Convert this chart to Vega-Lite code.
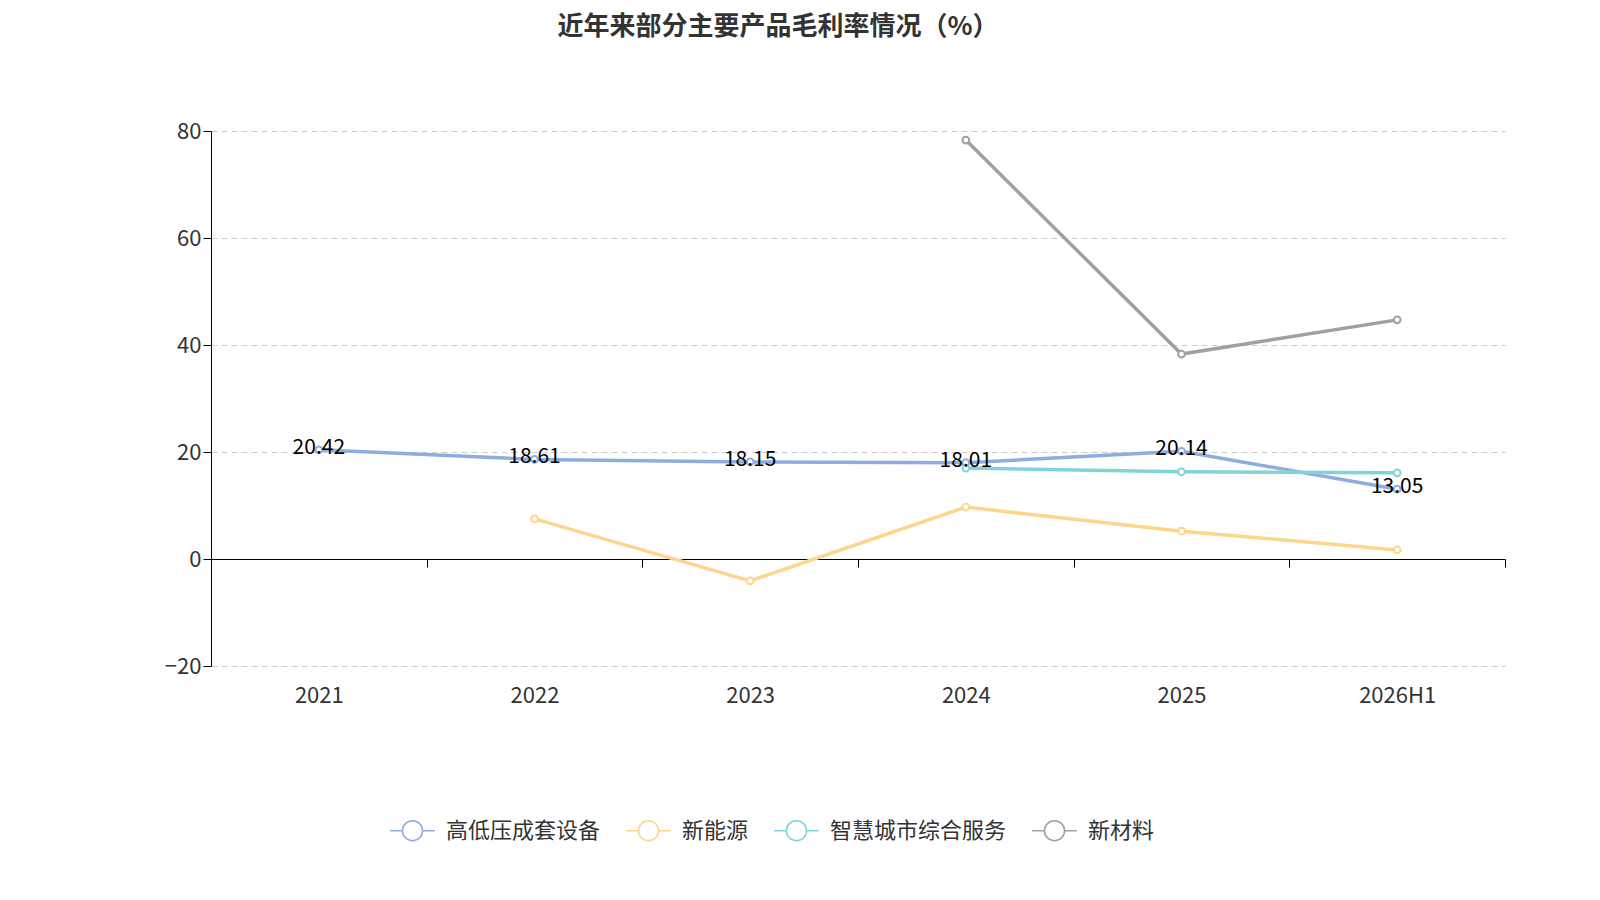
{
  "$schema": "https://vega.github.io/schema/vega-lite/v6.json",
  "autosize": {"type": "none"},
  "width": 1294,
  "height": 535,
  "padding": {"left": 211, "top": 131, "right": 95, "bottom": 234},
  "config": {"font": "Noto Sans CJK SC", "view": {"stroke": null}},
  "title": {"text": "近年来部分主要产品毛利率情况（%）", "fontSize": 26, "fontWeight": "bold", "color": "#333333", "anchor": "middle", "dx": -80, "offset": 80},
  "data": {"values": [
    {"year": "2021", "series": "高低压成套设备", "value": 20.42},
    {"year": "2022", "series": "高低压成套设备", "value": 18.61},
    {"year": "2023", "series": "高低压成套设备", "value": 18.15},
    {"year": "2024", "series": "高低压成套设备", "value": 18.01},
    {"year": "2025", "series": "高低压成套设备", "value": 20.14},
    {"year": "2026H1", "series": "高低压成套设备", "value": 13.05},
    {"year": "2022", "series": "新能源", "value": 7.5},
    {"year": "2023", "series": "新能源", "value": -4.1},
    {"year": "2024", "series": "新能源", "value": 9.7},
    {"year": "2025", "series": "新能源", "value": 5.2},
    {"year": "2026H1", "series": "新能源", "value": 1.7},
    {"year": "2024", "series": "智慧城市综合服务", "value": 17.0},
    {"year": "2025", "series": "智慧城市综合服务", "value": 16.3},
    {"year": "2026H1", "series": "智慧城市综合服务", "value": 16.1},
    {"year": "2024", "series": "新材料", "value": 78.3},
    {"year": "2025", "series": "新材料", "value": 38.3},
    {"year": "2026H1", "series": "新材料", "value": 44.7}
  ]},
  "encoding": {
    "x": {"field": "year", "type": "ordinal", "bandPosition": 0.5,
      "scale": {"type": "band", "paddingInner": 0, "paddingOuter": 0},
      "axis": {"offset": -107, "labelAngle": 0, "labelFontSize": 22, "labelColor": "#333333", "labelPadding": 118,
        "tickBand": "extent", "tickColor": "#000000", "tickSize": 8, "domainColor": "#000000", "grid": false,
        "title": "制图数据来自恒生聚源数据库", "titleFontSize": 18, "titleFontWeight": "normal", "titleColor": "#c8962e", "titlePadding": 250}},
    "y": {"field": "value", "type": "quantitative",
      "scale": {"domain": [-20, 80], "nice": false},
      "axis": {"values": [-20, 0, 20, 40, 60, 80], "title": null, "labelFontSize": 22, "labelColor": "#333333",
        "domainColor": "#000000", "tickColor": "#000000", "tickSize": 8, "gridDash": [6, 4], "gridColor": "#cccccc"}}
  },
  "layer": [
    {
      "mark": {"type": "line", "strokeWidth": 3.5, "point": {"filled": false, "fill": "white", "size": 45, "strokeWidth": 2}},
      "encoding": {
        "color": {"field": "series", "type": "nominal",
          "sort": ["高低压成套设备", "新能源", "智慧城市综合服务", "新材料"],
          "scale": {"domain": ["高低压成套设备", "新能源", "智慧城市综合服务", "新材料"], "range": ["#8eadde", "#fdd68c", "#80d4d8", "#a0a0a0"]},
          "legend": {"title": null, "orient": "none", "direction": "horizontal", "legendX": 178, "legendY": 676,
            "labelFontSize": 22, "labelColor": "#333333", "labelLimit": 400, "symbolType": "M-1,0L-0.45,0M0.45,0L1,0M0.45,0A0.45,0.45 0 1,1 -0.45,0A0.45,0.45 0 1,1 0.45,0",
            "symbolSize": 2000, "symbolStrokeWidth": 1.5, "symbolFillColor": "white", "columnPadding": 22, "labelOffset": 10}}
      }
    },
    {
      "transform": [{"filter": "datum.series === '高低压成套设备'"}],
      "mark": {"type": "text", "fontSize": 21, "color": "#000000", "dy": -2},
      "encoding": {"text": {"field": "value", "type": "quantitative", "format": ".2f"}}
    }
  ]
}
